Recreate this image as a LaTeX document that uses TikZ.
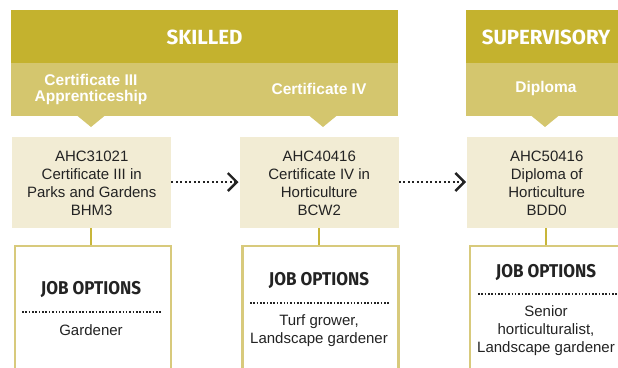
\documentclass[tikz,border=0pt]{standalone}
\usepackage{fontspec}
\setmainfont{Liberation Sans}
\newfontfamily\headfont{Fira Sans}
\newfontfamily\jobfont[FakeStretch=0.92]{Fira Sans}
\usetikzlibrary{arrows.meta}
\definecolor{darkgold}{RGB}{196,178,46}
\definecolor{lightgold}{RGB}{212,198,110}
\definecolor{cream}{RGB}{242,236,212}
\definecolor{jobborder}{RGB}{216,202,124}
\definecolor{linkgold}{RGB}{200,182,58}
\definecolor{txt}{RGB}{35,35,35}
\tikzset{
  band/.style={fill=darkgold, draw=none, inner sep=0pt, anchor=north west},
  subband/.style={fill=lightgold, draw=none, inner sep=0pt, anchor=north west},
  headtxt/.style={text=white, font=\headfont\bfseries\fontsize{20.5}{22}\selectfont},
  subtxt/.style={text=white, font=\bfseries\fontsize{15.5}{16.5}\selectfont, align=center},
  pointer/.style={fill=lightgold, draw=none},
  course/.style={fill=cream, draw=none, minimum width=159pt, minimum height=91pt, inner sep=0pt, anchor=north west},
  coursetxt/.style={text=txt, font=\fontsize{15}{18}\selectfont, align=center},
  jobbox/.style={draw=jobborder, line width=2.6pt, fill=white, minimum width=156pt, minimum height=140pt, inner sep=0pt, anchor=north west},
  jobhead/.style={text=txt, font=\jobfont\bfseries\fontsize{18.5}{20}\selectfont},
  jobtxt/.style={text=txt, font=\fontsize{15}{18}\selectfont, align=center},
  jobdots/.style={draw=txt, line width=2pt, dash pattern=on 1.6pt off 1.75pt},
  linkline/.style={draw=linkgold, line width=2.2pt},
  flow/.style={draw=txt, line width=2.3pt, dash pattern=on 2pt off 2.5pt, -{Straight Barb[length=9pt,width=18pt,line width=2.4pt]}}
}
\begin{document}
\begin{tikzpicture}[x=1pt,y=-1pt]
\useasboundingbox (0,0) rectangle (618,367);
\clip (0,0) rectangle (618,367);
% top bands
\node[band, minimum width=387pt, minimum height=53pt] (skb) at (11,10) {};
\node[band, minimum width=160pt, minimum height=53pt] (spb) at (466,10) {};
\node[headtxt] (skt) at (204.5,37) {SKILLED};
\node[headtxt] (spt) at (546,37) {SUPERVISORY};
\node[subband, minimum width=387pt, minimum height=53pt] (sks) at (11,63) {};
\node[subband, minimum width=160pt, minimum height=53pt] (sps) at (466,63) {};
\node[subtxt] (l1) at (91,89.5) {Certificate III\\Apprenticeship};
\node[subtxt] (l2) at (319,88.5) {Certificate IV};
\node[subtxt] (l3) at (546,88.5) {Diploma};
% pointers
\fill[pointer] (77,115.5) -- (105,115.5) -- (91,127) -- cycle;
\fill[pointer] (309,115.5) -- (337,115.5) -- (323,127) -- cycle;
\fill[pointer] (531,115.5) -- (559,115.5) -- (545,127) -- cycle;
% course boxes
\node[course] (c1) at (12,137) {};
\node[course] (c2) at (239.5,137) {};
\node[course] (c3) at (467,137) {};
\node[coursetxt] (t1) at ([yshift=-1pt]c1.center) {AHC31021\\Certificate III in\\Parks and Gardens\\BHM3};
\node[coursetxt] (t2) at ([yshift=-1pt]c2.center) {AHC40416\\Certificate IV in\\Horticulture\\BCW2};
\node[coursetxt] (t3) at ([yshift=-1pt]c3.center) {AHC50416\\Diploma of\\Horticulture\\BDD0};
% flow arrows
\path[flow] (c1.east |- 0,182) -- ([xshift=-1pt]c2.west |- 0,182);
\path[flow] (c2.east |- 0,182) -- ([xshift=-1pt]c3.west |- 0,182);
% job boxes
\node[jobbox] (j1) at (13.5,244.5) {};
\node[jobbox] (j2) at (241,244.5) {};
\node[jobbox] (j3) at (468.5,244.5) {};
\path[linkline] (c1.south -| 91,0) -- (j1.north -| 91,0);
\path[linkline] (c2.south -| 319,0) -- (j2.north -| 319,0);
\path[linkline] (c3.south -| 546,0) -- (j3.north -| 546,0);
% job contents
\node[jobhead] (h1) at (91,289) {JOB OPTIONS};
\coordinate (d1a) at (22,311.5); \coordinate (d1b) at (162,311.5);
\path[jobdots] (d1a) -- (d1b);
\node[jobtxt] (o1) at (91,330) {Gardener};
\node[jobhead] (h2) at (319,280) {JOB OPTIONS};
\coordinate (d2a) at (250,302.5); \coordinate (d2b) at (390,302.5);
\path[jobdots] (d2a) -- (d2b);
\node[jobtxt] (o2) at (319,331) {Turf grower,\\Landscape gardener};
\node[jobhead] (h3) at (546,272) {JOB OPTIONS};
\coordinate (d3a) at (478,293.5); \coordinate (d3b) at (618,293.5);
\path[jobdots] (d3a) -- (d3b);
\node[jobtxt] (o3) at (546,331) {Senior\\horticulturalist,\\Landscape gardener};
\end{tikzpicture}
\end{document}
